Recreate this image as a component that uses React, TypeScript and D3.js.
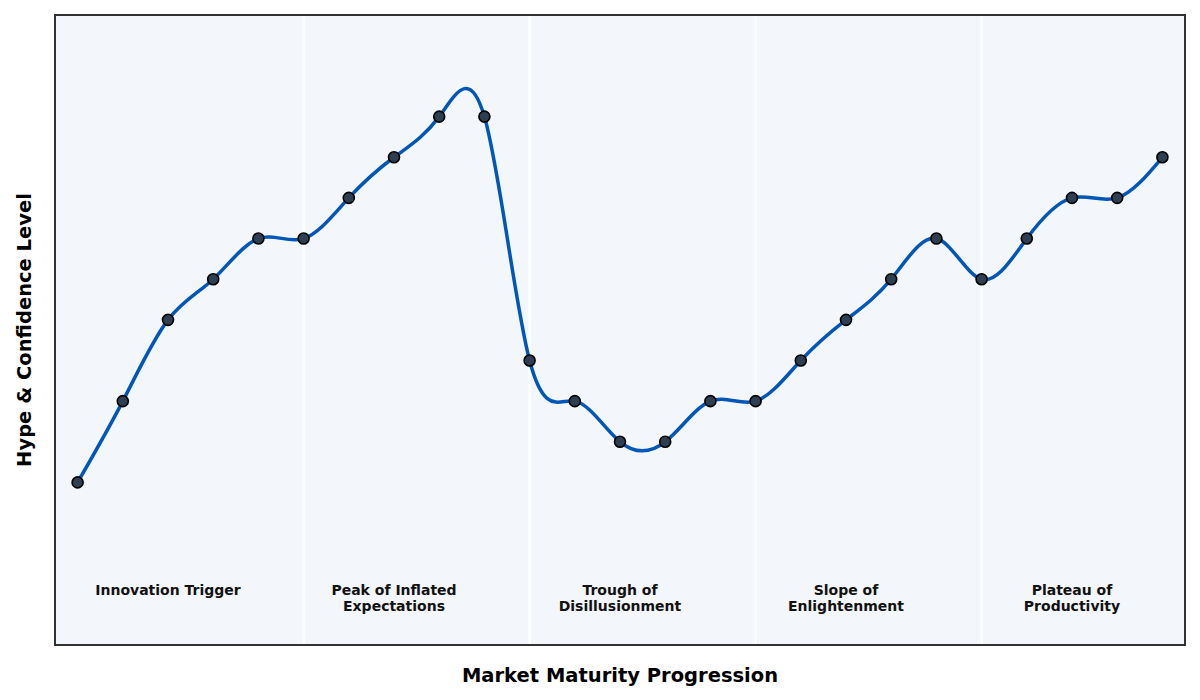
import React, { useEffect, useRef } from "react";
import * as d3 from "d3";

// hype level at each step of the market progression
const steps = d3.range(25);
const hype = [2, 4, 6, 7, 8, 8, 9, 10, 11, 11, 5, 4, 3, 3, 4, 4, 5, 6, 7, 8, 7, 8, 9, 9, 10];

const phases = [
  "Innovation Trigger",
  "Peak of Inflated\nExpectations",
  "Trough of\nDisillusionment",
  "Slope of\nEnlightenment",
  "Plateau of\nProductivity",
];
const phaseCenters = [2, 7, 12, 17, 22];
const phaseBreaks = [5, 10, 15, 20];

const W = 1200;
const H = 700;
const M = { top: 15, right: 15, bottom: 55, left: 55 };

export default function App() {
  const ref = useRef<SVGSVGElement>(null);

  useEffect(() => {
    if (!ref.current) return;
    const svg = d3.select(ref.current);
    svg.selectAll("*").remove();

    const iw = W - M.left - M.right;
    const ih = H - M.top - M.bottom;
    const x = d3.scaleLinear().domain([-0.5, 24.5]).range([0, iw]);
    const y = d3.scaleLinear().domain([-2, 13.5]).range([ih, 0]);

    const g = svg.append("g").attr("transform", `translate(${M.left},${M.top})`);

    g.append("rect")
      .attr("width", iw)
      .attr("height", ih)
      .attr("fill", "#f3f6fa");

    g.selectAll(".sep")
      .data(phaseBreaks)
      .join("line")
      .attr("x1", (d) => x(d))
      .attr("x2", (d) => x(d))
      .attr("y1", 0)
      .attr("y2", ih)
      .attr("stroke", "#ffffff")
      .attr("stroke-width", 2.5);

    const line = d3
      .line<number>()
      .x((_d, i) => x(steps[i]))
      .y((d) => y(d))
      .curve(d3.curveNatural);

    g.append("path")
      .datum(hype)
      .attr("d", line)
      .attr("fill", "none")
      .attr("stroke", "#0057b7")
      .attr("stroke-width", 3.5);

    g.selectAll(".pt")
      .data(hype)
      .join("circle")
      .attr("cx", (_d, i) => x(steps[i]))
      .attr("cy", (d) => y(d))
      .attr("r", 5.5)
      .attr("fill", "#2e3f52")
      .attr("stroke", "#000")
      .attr("stroke-width", 1.6);

    const labels = g
      .selectAll(".phase")
      .data(phases)
      .join("text")
      .attr("text-anchor", "middle")
      .attr("font-family", "DejaVu Sans")
      .attr("font-weight", "bold")
      .attr("font-size", 14)
      .attr("fill", "#111");
    labels.each(function (d, i) {
      const t = d3.select(this);
      d.split("\n").forEach((s, k) => {
        t.append("tspan")
          .attr("x", x(phaseCenters[i]))
          .attr("y", y(-0.65) + 5 + k * 16)
          .text(s);
      });
    });

    g.append("rect")
      .attr("width", iw)
      .attr("height", ih)
      .attr("fill", "none")
      .attr("stroke", "#333")
      .attr("stroke-width", 2);

    svg.append("text")
      .attr("x", M.left + iw / 2)
      .attr("y", 682)
      .attr("text-anchor", "middle")
      .attr("font-family", "DejaVu Sans")
      .attr("font-weight", "bold")
      .attr("font-size", 19.5)
      .text("Market Maturity Progression");

    svg.append("text")
      .attr("transform", `translate(31,${M.top + ih / 2}) rotate(-90)`)
      .attr("text-anchor", "middle")
      .attr("font-family", "DejaVu Sans")
      .attr("font-weight", "bold")
      .attr("font-size", 19.5)
      .text("Hype & Confidence Level");
  }, []);

  return (
    <div style={{ position: "absolute", left: 0, top: 0 }}>
      <svg ref={ref} width={W} height={H} style={{ display: "block", background: "#fff" }} />
    </div>
  );
}
